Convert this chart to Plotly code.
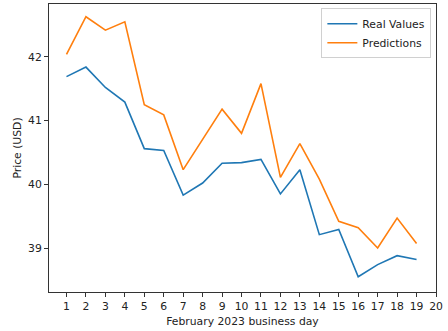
import plotly.graph_objects as go

days = list(range(1, 20))
real_values = [41.69, 41.84, 41.52, 41.29, 40.56, 40.53, 39.83, 40.02, 40.33, 40.34,
               40.39, 39.85, 40.23, 39.21, 39.29, 38.55, 38.74, 38.88, 38.82]
predictions = [42.04, 42.63, 42.42, 42.55, 41.25, 41.09, 40.23, 40.70, 41.18, 40.80,
               41.58, 40.11, 40.64, 40.08, 39.42, 39.32, 39.00, 39.47, 39.07]
x_ticks = list(range(1, 21))
y_ticks = [39, 40, 41, 42]

font = dict(family="DejaVu Sans", size=10.8, color="#222")

fig = go.Figure()
fig.add_trace(go.Scatter(x=days, y=real_values, mode="lines", name="Real Values",
                         line=dict(color="#1f77b4", width=1.6)))
fig.add_trace(go.Scatter(x=days, y=predictions, mode="lines", name="Predictions",
                         line=dict(color="#ff7f0e", width=1.6)))

axis_common = dict(showline=True, linecolor="#333", linewidth=1, mirror=True,
                   ticks="outside", ticklen=4, tickcolor="#333", showgrid=False,
                   zeroline=False, tickfont=font)

fig.update_layout(
    width=448, height=331,
    margin=dict(l=49, r=12, t=4, b=39),
    paper_bgcolor="white", plot_bgcolor="white",
    font=font,
    showlegend=True,
    legend=dict(x=0.988, y=0.985, xanchor="right", yanchor="top",
                bordercolor="#d0d0d0", borderwidth=1, bgcolor="rgba(255,255,255,0.8)",
                font=font, tracegroupgap=0, itemwidth=30),
    xaxis=dict(range=[0.1, 20], tickvals=x_ticks,
               title=dict(text="February 2023 business day", standoff=5, font=font),
               **axis_common),
    yaxis=dict(range=[38.31, 42.83], tickvals=y_ticks,
               title=dict(text="Price (USD)", standoff=4, font=font),
               **axis_common),
)

fig.write_html("out.html")
